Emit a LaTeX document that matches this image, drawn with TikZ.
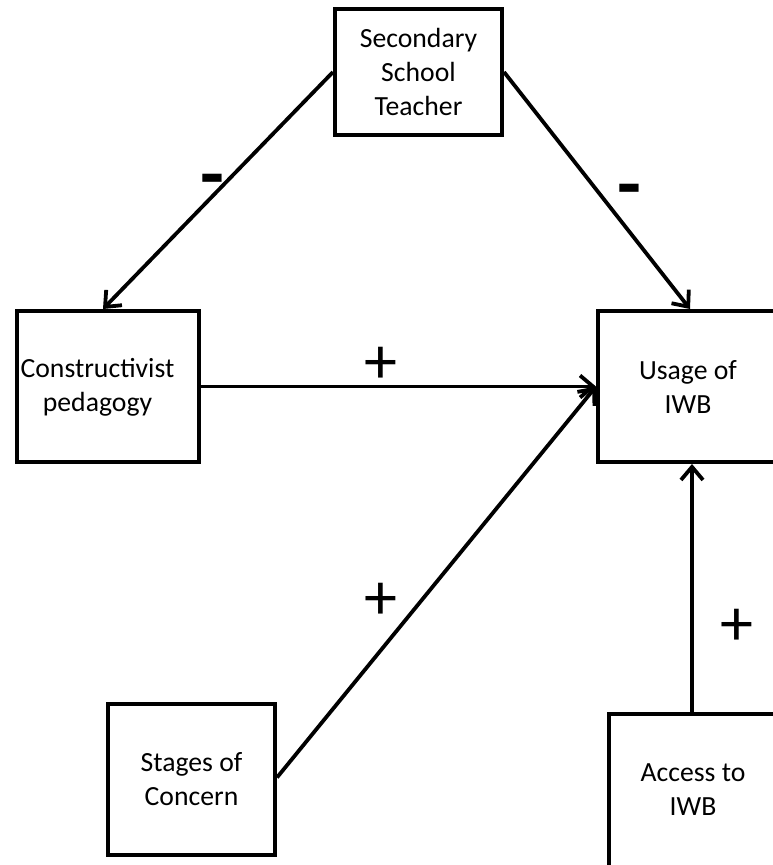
\documentclass[tikz,border=0pt]{standalone}
\usepackage{fontspec}
\setmainfont{Carlito}
\usetikzlibrary{arrows.meta,calc}
\begin{document}
\begin{tikzpicture}[x=1pt,y=-1pt,
  boxnode/.style={draw=black,line width=4pt,inner sep=0pt,align=center,
    font=\fontsize{27.7}{34}\selectfont},
  txt/.style={inner sep=0pt,align=center,font=\fontsize{27.7}{34}\selectfont},
  conn/.style={line width=3.8pt,-{Straight Barb[length=13pt,width=22pt]}},
  plussign/.style={inner sep=0pt,font=\fontsize{66}{66}\selectfont},
  minussign/.style={inner sep=0pt,font=\fontsize{78}{78}\selectfont\bfseries}
]
\useasboundingbox (0,0) rectangle (773,865);
\fill[white] (0,0) rectangle (773,865);
\begin{scope}
\clip (0,0) rectangle (773,865);
\node[boxnode,minimum width=167pt,minimum height=126pt] (sst) at (418.5,72) {Secondary\\School\\Teacher};
\node[boxnode,minimum width=182pt,minimum height=151pt] (cons) at (108,386.5) {};
\node[txt] (constext) at (97.5,387) {Constructivist\\pedagogy};
\node[boxnode,minimum width=180pt,minimum height=151pt] (usage) at (688,386.5) {Usage of\\IWB};
\node[boxnode,minimum width=167pt,minimum height=151pt] (stages) at (191.5,779.5) {Stages of\\Concern};
\node[boxnode,minimum width=166pt,minimum height=160pt] (access) at (692,794) {};
\node[txt] (accesstext) at (693,790) {Access to\\IWB};

\draw[conn] (sst.west) -- ($(cons.north)+(-5,0)$);
\draw[conn] (sst.east) -- ($(usage.north)+(2,0)$);
\draw[conn] (cons.east) -- (usage.west);
\draw[conn] ($(stages.east)+(0,-2)$) -- (usage.west);
\draw[conn] (access.north) -- (access.north |- usage.south);

\node[minussign] (m1) at (212,187) {-};
\node[minussign] (m2) at (629,197) {-};
\node[plussign] (p1) at (381,365) {+};
\node[plussign] (p2) at (381,601) {+};
\node[plussign] (p3) at (737,627) {+};
\end{scope}
\end{tikzpicture}
\end{document}
